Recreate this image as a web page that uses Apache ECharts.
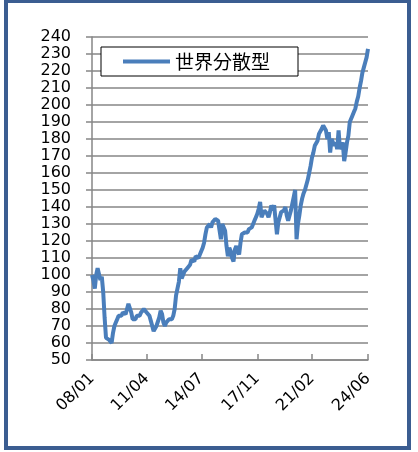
<!DOCTYPE html>
<html>
<head>
<meta charset="utf-8">
<script src="https://cdn.jsdelivr.net/npm/echarts@6/dist/echarts.min.js"></script>
<style>
html,body{margin:0;padding:0;background:#fff;}
#c{width:418px;height:452px;}
</style>
</head>
<body>
<div id="c"></div>
<script>
// Monthly values, 2008/01 .. 2024/06
const v2008 = [100, 97, 92, 100, 104, 103, 97, 99, 90, 75, 63, 64];
const v2009 = [62, 61, 60, 66, 70, 72, 74, 76, 77, 76, 78, 79];
const v2010 = [77, 80, 83, 84, 78, 74, 75, 74, 76, 77, 76, 78];
const v2011 = [79, 80, 80, 78, 77, 76, 73, 70, 67, 67, 70, 71];
const v2012 = [75, 79, 77, 72, 70, 72, 73, 74, 75, 74, 76, 80];
const v2013 = [88, 92, 96, 104, 98, 100, 102, 101, 104, 103, 106, 109];
const v2014 = [110, 108, 111, 112, 110, 112, 113, 116, 119, 124, 128, 129];
const v2015 = [130, 128, 131, 132, 133, 134, 132, 133, 121, 130, 131, 126];
const v2016 = [117, 111, 116, 114, 110, 108, 115, 117, 114, 112, 119, 124];
const v2017 = [124, 125, 124, 125, 127, 126, 128, 130, 132, 134, 136, 139];
const v2018 = [143, 134, 135, 138, 137, 136, 134, 137, 141, 138, 141, 140];
const v2019 = [124, 131, 134, 137, 136, 138, 140, 135, 132, 135, 138, 142];
const v2020 = [146, 150, 121, 130, 135, 141, 145, 148, 150, 149, 156, 160];
const v2021 = [164, 169, 172, 176, 177, 179, 183, 182, 186, 188, 189, 185];
const v2022 = [180, 184, 172, 180, 181, 176, 178, 174, 185, 174, 176, 178];
const v2023 = [167, 172, 178, 182, 190, 191, 194, 196, 198, 202, 205, 210];
const v2024 = [214, 219, 222, 225, 228, 233];

const seriesName = '世界分散型';
const tickLabels = ['08/01', '11/04', '14/07', '17/11', '21/02', '24/06'];
const yMin = 50, yMax = 240, yStep = 10;

const values = [].concat(v2008, v2009, v2010, v2011, v2012, v2013, v2014, v2015,
  v2016, v2017, v2018, v2019, v2020, v2021, v2022, v2023, v2024);

// monthly categories "YY/MM" starting 2008/01
const categories = [];
for (let i = 0; i < values.length; i++) {
  const y = 8 + Math.floor(i / 12), m = (i % 12) + 1;
  categories.push(String(y).padStart(2, '0') + '/' + String(m).padStart(2, '0'));
}
const showIdx = tickLabels.map(t => categories.indexOf(t));
const showFn = (idx) => showIdx.indexOf(idx) >= 0;

const chart = echarts.init(document.getElementById('c'), null, {renderer: 'canvas'});
chart.setOption({
  animation: false,
  backgroundColor: '#ffffff',
  grid: {left: 92, right: 50, top: 37, bottom: 92, containLabel: false},
  legend: {
    show: true,
    left: 101, top: 47,
    data: [{name: seriesName, icon: 'rect'}],
    itemWidth: 47, itemHeight: 4, itemGap: 6,
    padding: [5, 28, 5, 22],
    borderColor: '#000', borderWidth: 1,
    backgroundColor: '#fff',
    itemStyle: {color: '#4a7ebb', borderWidth: 0},
    textStyle: {fontFamily: 'Noto Sans CJK JP', fontSize: 19, color: '#000'}
  },
  xAxis: {
    type: 'category',
    data: categories,
    boundaryGap: false,
    axisLine: {lineStyle: {color: '#868686', width: 1.5}},
    axisTick: {show: true, interval: showFn, inside: true, length: 6, lineStyle: {color: '#868686', width: 1.5}},
    axisLabel: {interval: showFn, rotate: 45, margin: 16, fontFamily: 'DejaVu Sans', fontSize: 16, color: '#000'},
    splitLine: {show: false}
  },
  yAxis: {
    type: 'value',
    min: yMin, max: yMax, interval: yStep,
    axisLine: {show: true, lineStyle: {color: '#868686', width: 1.5}},
    axisTick: {show: true, length: 6, lineStyle: {color: '#868686', width: 1.5}},
    axisLabel: {margin: 21, fontFamily: 'DejaVu Sans', fontSize: 16, color: '#000'},
    splitLine: {show: true, lineStyle: {color: '#868686', width: 1.5}}
  },
  series: [{
    name: seriesName,
    type: 'line',
    data: values,
    symbol: 'none',
    showSymbol: false,
    lineStyle: {color: '#4a7ebb', width: 4},
    itemStyle: {color: '#4a7ebb'}
  }],
  graphic: [{
    type: 'rect',
    shape: {x: 6, y: 1, width: 403, height: 447},
    style: {fill: 'none', stroke: '#3b5d91', lineWidth: 4},
    silent: true
  }]
});
</script>
</body>
</html>
